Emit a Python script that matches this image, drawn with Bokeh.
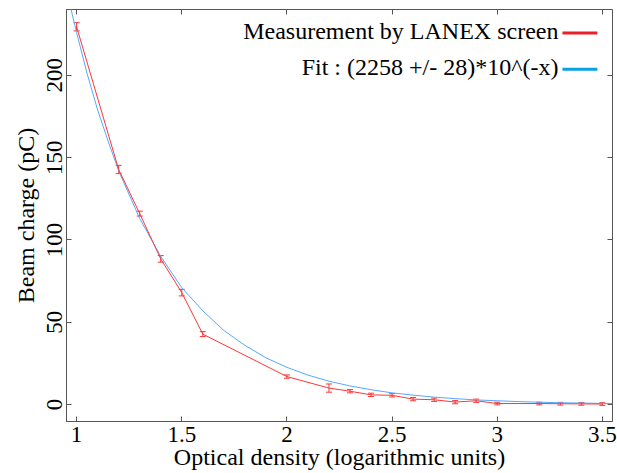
from bokeh.plotting import figure
from bokeh.models import (Range1d, SingleIntervalTicker, LinearAxis, Whisker, ColumnDataSource,
                          CustomJSTickFormatter, Label, BoxAnnotation, TeeHead)
from bokeh.embed import file_html
from bokeh.resources import INLINE

# Measurement by LANEX screen
x_meas = [1.0, 1.2, 1.3, 1.4, 1.5, 1.6, 2.0, 2.2, 2.3, 2.4, 2.5, 2.6, 2.7, 2.8, 2.9, 3.0, 3.2, 3.3, 3.4, 3.5]
q_meas = [229.5, 142.8, 116.0, 88.5, 68.0, 42.8, 17.0, 10.0, 8.1, 5.9, 5.6, 3.3, 2.9, 1.5, 2.3, 0.6, 0.6, 0.5, 0.4, 0.3]
q_err = [2.5, 2.5, 1.5, 2.0, 2.0, 1.5, 1.0, 2.5, 1.0, 1.0, 1.0, 1.0, 1.0, 1.0, 1.0, 0.8, 0.8, 0.8, 0.8, 0.8]

# Fit curve
x_fit = [0.97, 1.0, 1.05, 1.1, 1.15, 1.2, 1.3, 1.4, 1.5, 1.6, 1.7, 1.8, 1.9, 2.0, 2.1, 2.2, 2.3, 2.4,
         2.5, 2.6, 2.7, 2.8, 2.9, 3.0, 3.1, 3.2, 3.3, 3.4, 3.5, 3.55]
q_fit = [242, 226, 201, 179, 160, 142, 113, 90, 71, 57, 45, 36, 28.4, 22.6, 17.9, 14.2, 11.3, 9.0,
         7.1, 5.7, 4.5, 3.6, 2.8, 2.3, 1.8, 1.4, 1.1, 0.9, 0.7, 0.6]

legend_labels = ["Measurement by LANEX screen", "Fit : (2258 +/- 28)*10^(-x)"]

FONT = "Liberation Serif"
FRAME = "#555555"
RED = "#ff3535"
BLUE = "#55a8ff"

p = figure(width=617, height=473, x_range=Range1d(0.952, 3.548), y_range=Range1d(-10.3, 240),
           output_backend="svg", toolbar_location=None,
           x_axis_label="Optical density (logarithmic units)", y_axis_label="Beam charge (pC)")
p.min_border_left = 66
p.min_border_right = 5
p.min_border_top = 9
p.min_border_bottom = 52
p.background_fill_color = "white"
p.border_fill_color = "white"
p.outline_line_color = FRAME
p.xgrid.visible = False
p.ygrid.visible = False

fmt = CustomJSTickFormatter(code="return String(Math.round(tick*100)/100)")

for ax in p.xaxis:
    ax.ticker = SingleIntervalTicker(interval=0.5)
    ax.formatter = fmt
for ax in p.yaxis:
    ax.ticker = SingleIntervalTicker(interval=50)
    ax.major_label_orientation = "vertical"

for ax in list(p.xaxis) + list(p.yaxis):
    ax.axis_line_color = FRAME
    ax.major_tick_line_color = FRAME
    ax.major_tick_in = 5
    ax.major_tick_out = 0
    ax.minor_tick_line_color = None
    ax.major_label_text_font = FONT
    ax.major_label_text_font_size = "23px"
    ax.major_label_text_color = "black"
    ax.axis_label_text_font = FONT
    ax.axis_label_text_font_size = "24px"
    ax.axis_label_text_font_style = "normal"
    ax.axis_label_text_color = "black"

p.xaxis.major_label_standoff = 1
p.xaxis.axis_label_standoff = -1
p.yaxis.major_label_standoff = 0
p.yaxis.axis_label_standoff = 6

top = LinearAxis(ticker=SingleIntervalTicker(interval=0.5), major_label_text_font_size="1px",
                 major_label_text_color=None,
                 major_tick_in=5, major_tick_out=0, axis_line_color=None,
                 major_tick_line_color=FRAME, minor_tick_line_color=None, major_label_standoff=0)
right = LinearAxis(ticker=SingleIntervalTicker(interval=50), major_label_text_font_size="1px",
                   major_label_text_color=None,
                   major_tick_in=5, major_tick_out=0, axis_line_color=None,
                   major_tick_line_color=FRAME, minor_tick_line_color=None, major_label_standoff=0)
p.add_layout(top, "above")
p.add_layout(right, "right")

# fit curve
p.line(x_fit, q_fit, line_color=BLUE, line_width=1)

# measurement with error bars
src = ColumnDataSource(dict(x=x_meas, y=q_meas,
                            upper=[a + b for a, b in zip(q_meas, q_err)],
                            lower=[a - b for a, b in zip(q_meas, q_err)]))
p.line("x", "y", source=src, line_color=RED, line_width=1)
p.add_layout(Whisker(base="x", upper="upper", lower="lower", source=src, line_color=RED, line_width=1,
                     upper_head=TeeHead(size=6, line_color=RED, line_width=1),
                     lower_head=TeeHead(size=6, line_color=RED, line_width=1)))

# legend (text right-aligned, line sample on the right)
leg_colors = ["#e8202a", "#0aa0e6"]
leg_text_y = [226.8, 204.8]
leg_line_y = [225.7, 203.7]
for lab, col, ty, ly in zip(legend_labels, leg_colors, leg_text_y, leg_line_y):
    p.add_layout(Label(x=3.291, y=ty, text=lab, text_align="right", text_baseline="alphabetic",
                       text_font=FONT, text_font_size="24px", text_color="black"))
    p.add_layout(BoxAnnotation(left=3.31, right=3.476, bottom=ly - 0.9, top=ly + 0.9,
                               fill_color=col, fill_alpha=1, line_color=None))

open("out.html", "w").write(file_html(p, INLINE))
